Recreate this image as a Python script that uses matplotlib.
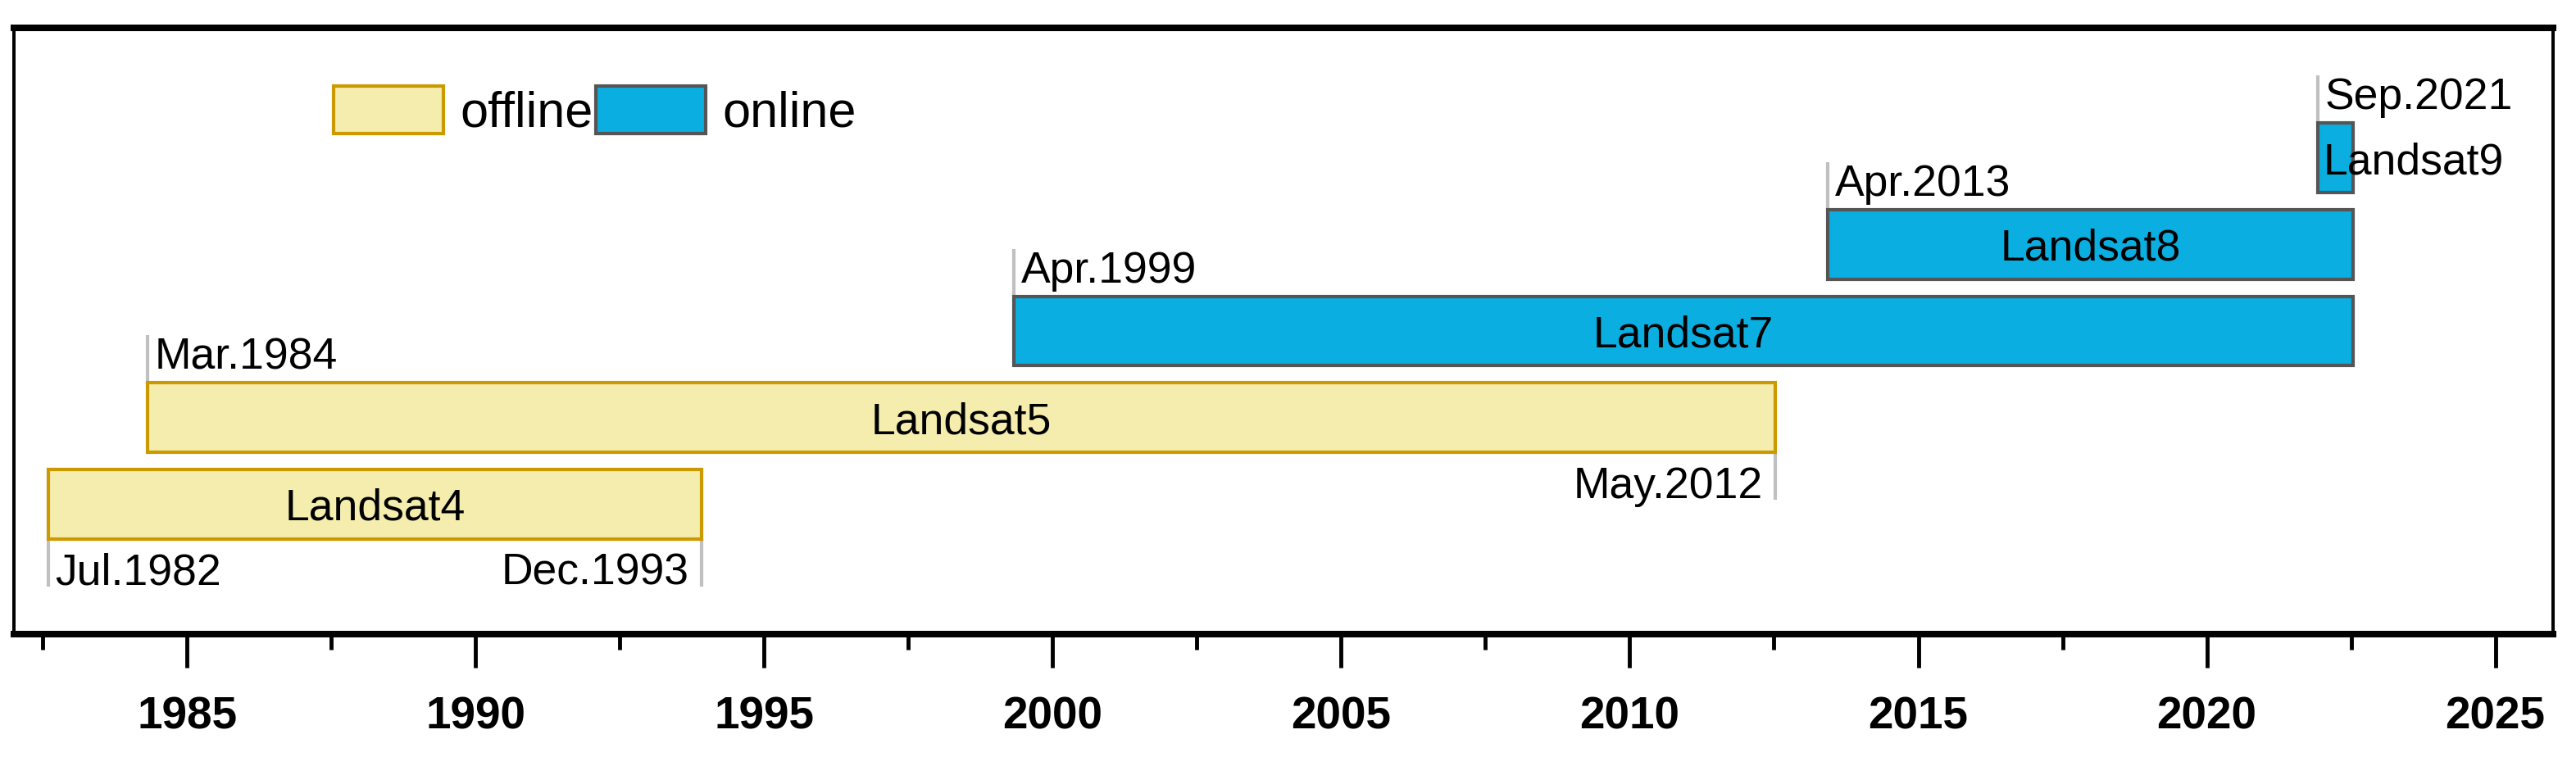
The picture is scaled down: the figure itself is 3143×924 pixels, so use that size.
import matplotlib
matplotlib.use('Agg')
import numpy as np
import matplotlib.pyplot as plt
from matplotlib.patches import Patch

plt.rcParams['font.family'] = ['Liberation Sans', 'DejaVu Sans']

# ---- data -------------------------------------------------------------
satellites = ['Landsat4', 'Landsat5', 'Landsat7', 'Landsat8', 'Landsat9']
start_year = [1982.60, 1984.31, 1999.33, 2013.43, 2021.92]
end_year = [1993.92, 2012.52, 2022.53, 2022.53, 2022.53]
status = ['offline', 'offline', 'online', 'online', 'online']
start_labels = ['Jul.1982', 'Mar.1984', 'Apr.1999', 'Apr.2013', 'Sep.2021']
start_label_side = ['below', 'above', 'above', 'above', 'above']
end_labels = ['Dec.1993', 'May.2012', None, None, None]
legend_labels = ['offline', 'online']
major_ticks = [1985, 1990, 1995, 2000, 2005, 2010, 2015, 2020, 2025]
minor_ticks = [1982.5, 1987.5, 1992.5, 1997.5, 2002.5, 2007.5, 2012.5, 2017.5, 2022.5]

# ---- style ------------------------------------------------------------
face = {'offline': '#F5EDAD', 'online': '#0AAEE0'}
edge = {'offline': '#CC9900', 'online': '#555555'}
guide_color = '#C0C0C0'
bar_h = 0.8
lead = 0.55
fs_text = 38.5

fig = plt.figure(figsize=(31.43, 9.24), dpi=100)
ax = fig.add_axes([17 / 3143, 150 / 924, 3098 / 3143, 740 / 924])

for i, name in enumerate(satellites):
    s, e, st = start_year[i], end_year[i], status[i]
    ax.barh(i, e - s, left=s, height=bar_h, color=face[st],
            edgecolor=edge[st], linewidth=3, zorder=2)
    if e - s > 3:
        ax.text((s + e) / 2, i, name, ha='center', va='center_baseline',
                fontsize=fs_text, zorder=3)
    else:
        ax.text(s + 0.1, i, name, ha='left', va='center_baseline',
                fontsize=fs_text, zorder=3)
    top = i + bar_h / 2
    bot = i - bar_h / 2
    if start_label_side[i] == 'above':
        ax.plot([s, s], [top, top + lead], color=guide_color, lw=3,
                solid_capstyle='butt', zorder=1)
        ax.text(s + 0.13, top + 0.16, start_labels[i], ha='left',
                va='baseline', fontsize=fs_text)
    else:
        ax.plot([s, s], [bot - lead, bot], color=guide_color, lw=3,
                solid_capstyle='butt', zorder=1)
        ax.text(s + 0.12, bot - 0.53, start_labels[i], ha='left',
                va='baseline', fontsize=fs_text)
    if end_labels[i] is not None:
        ax.plot([e, e], [bot - lead, bot], color=guide_color, lw=3,
                solid_capstyle='butt', zorder=1)
        ax.text(e - 0.22, bot - 0.53, end_labels[i], ha='right',
                va='baseline', fontsize=fs_text)

handles = [Patch(facecolor=face[k], edgecolor=edge[k], linewidth=3)
           for k in legend_labels]
ax.legend(handles, legend_labels, loc='center left',
          bbox_to_anchor=(0.1259, 0.862), ncol=2, frameon=False,
          fontsize=44, handlelength=2.19, handleheight=1.08,
          handletextpad=0.34, columnspacing=0.05, borderpad=0,
          borderaxespad=0)

ax.set_xlim(1982, 2026)
ax.set_ylim(-1.5, 5.5)
ax.set_yticks([])
ax.set_xticks(major_ticks)
ax.set_xticks(minor_ticks, minor=True)
ax.tick_params(axis='x', which='major', direction='out', length=29.5,
               width=3.5, pad=25, labelsize=39.5)
ax.tick_params(axis='x', which='minor', direction='out', length=13.7,
               width=3.5)
plt.setp(ax.get_xticklabels(), fontweight='bold')

for side in ['top', 'bottom']:
    ax.spines[side].set_linewidth(5.8)
for side in ['left', 'right']:
    ax.spines[side].set_linewidth(2.9)

fig.savefig('out.png', dpi=100)
